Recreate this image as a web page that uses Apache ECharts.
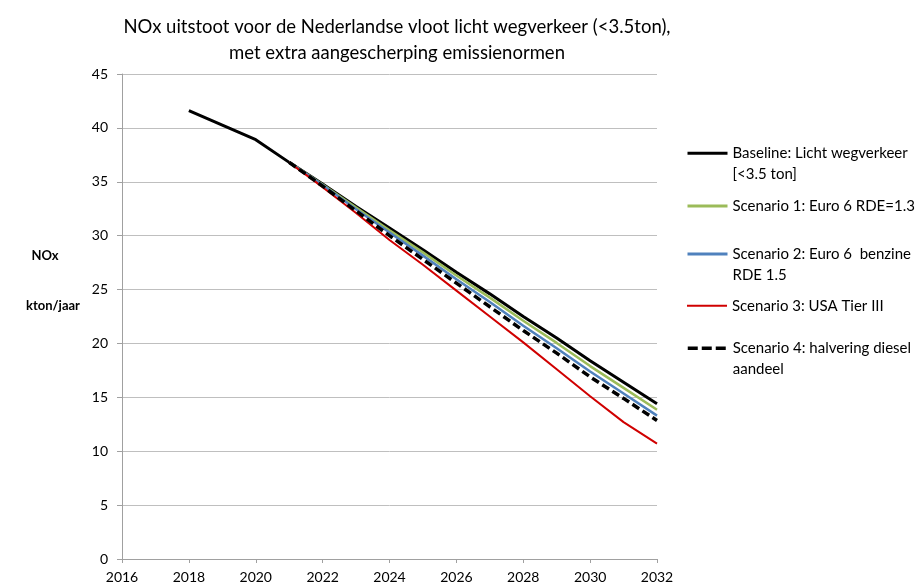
<!DOCTYPE html>
<html>
<head>
<meta charset="utf-8">
<script src="https://cdn.jsdelivr.net/npm/echarts@6/dist/echarts.min.js"></script>
<style>
html,body{margin:0;padding:0;background:#fff;}
#chart{width:919px;height:584px;}
</style>
</head>
<body>
<div id="chart"></div>
<script>
var years = [2018, 2019, 2020, 2021, 2022, 2023, 2024, 2025, 2026, 2027, 2028, 2029, 2030, 2031, 2032];
var baseline  = [41.6, 40.25, 38.9, 36.8, 34.8, 32.7, 30.7, 28.7, 26.6, 24.6, 22.5, 20.5, 18.4, 16.4, 14.4];
var scenario1 = [null, null, null, 36.8, 34.75, 32.6, 30.5, 28.45, 26.3, 24.25, 22.1, 20.05, 17.9, 15.88, 13.85];
var scenario2 = [null, null, null, 36.8, 34.7, 32.45, 30.3, 28.15, 25.95, 23.85, 21.65, 19.55, 17.4, 15.35, 13.3];
var scenario3 = [null, null, null, 36.8, 34.5, 32.1, 29.6, 27.3, 24.9, 22.5, 20.1, 17.6, 15.1, 12.7, 10.7];
var scenario4 = [null, null, null, 36.8, 34.6, 32.3, 30.0, 27.8, 25.6, 23.4, 21.2, 19.1, 16.9, 14.9, 12.85];
var seriesNames = [
  'Baseline: Licht wegverkeer\n[<3.5 ton]',
  'Scenario 1: Euro 6 RDE=1.3',
  'Scenario 2: Euro 6  benzine\nRDE 1.5',
  'Scenario 3: USA Tier III',
  'Scenario 4: halvering diesel\naandeel'
];
var titleText = 'NOx uitstoot voor de Nederlandse vloot licht wegverkeer (<3.5ton),\nmet extra aangescherping emissienormen';
var yNameTop = 'NOx';
var yNameBottom = 'kton/jaar';

function pairs(vals) {
  var out = [];
  for (var i = 0; i < years.length; i++) {
    if (vals[i] !== null) out.push([years[i], vals[i]]);
  }
  return out;
}

var FONT = 'Lato, "Open Sans", sans-serif';
var colors = ['#000000', '#9BBB59', '#4F81BD', '#D00000', '#000000'];
var widths = [3, 2.5, 2.5, 2, 3.5];
var legendWidths = [3, 3, 3, 2, 3.5];
var types = ['solid', 'solid', 'solid', 'solid', [8, 4]];
var legendTypes = ['solid', 'solid', 'solid', 'solid', [10, 4]];
var allData = [baseline, scenario1, scenario2, scenario3, scenario4];
var legendTops = [121.8, 195.5, 222.5, 295.2, 316.8];

var series = allData.map(function (d, i) {
  return {
    name: seriesNames[i],
    type: 'line',
    data: pairs(d),
    symbol: 'none',
    smooth: false,
    animation: false,
    z: 2 + i,
    lineStyle: { color: colors[i], width: widths[i], type: types[i], cap: 'butt' },
    itemStyle: { color: colors[i] }
  };
});

var legends = seriesNames.map(function (n, i) {
  return {
    data: [n],
    orient: 'vertical',
    left: 686,
    top: legendTops[i],
    padding: 0,
    itemWidth: 40,
    itemHeight: 14,
    selectedMode: false,
    itemStyle: { opacity: 0 },
    lineStyle: { width: legendWidths[i], type: legendTypes[i], color: colors[i] },
    formatter: function (name) { return name.indexOf('\n') >= 0 ? '\n' + name : name; },
    textStyle: { fontFamily: FONT, fontSize: 15, color: '#000', lineHeight: 21 }
  };
});

var chart = echarts.init(document.getElementById('chart'), null, { renderer: 'canvas' });
chart.setOption({
  animation: false,
  backgroundColor: '#fff',
  grid: { left: 122, right: 262, top: 74, bottom: 25, containLabel: false, outerBoundsMode: 'none' },
  xAxis: {
    type: 'value', min: 2016, max: 2032, interval: 2,
    axisLine: { show: true, lineStyle: { color: '#A0A0A0', width: 1 } },
    axisTick: { show: true, inside: false, length: 4, lineStyle: { color: '#A0A0A0' } },
    splitLine: { show: false },
    axisLabel: { margin: 11, fontFamily: FONT, fontSize: 14, color: '#000', formatter: function (v) { return String(v); } }
  },
  yAxis: {
    type: 'value', min: 0, max: 45, interval: 5,
    axisLine: { show: true, lineStyle: { color: '#A0A0A0', width: 1 } },
    axisTick: { show: true, inside: false, length: 5, lineStyle: { color: '#A0A0A0' } },
    splitLine: { show: true, lineStyle: { color: '#BFBFBF', width: 1 } },
    axisLabel: { margin: 14, fontFamily: FONT, fontSize: 14, color: '#000' }
  },
  legend: legends,
  graphic: [
    { type: 'text', silent: true, x: 397, y: 40,
      style: { text: titleText, font: '18.5px ' + FONT, fill: '#000', lineHeight: 26,
        textAlign: 'center', textVerticalAlign: 'middle', align: 'center', verticalAlign: 'middle' } },
    { type: 'text', silent: true, x: 45, y: 256,
      style: { text: yNameTop, font: 'bold 13px ' + FONT, fill: '#000', textAlign: 'center', textVerticalAlign: 'middle', align: 'center', verticalAlign: 'middle' } },
    { type: 'text', silent: true, x: 53, y: 306,
      style: { text: yNameBottom, font: 'bold 13px ' + FONT, fill: '#000', textAlign: 'center', textVerticalAlign: 'middle', align: 'center', verticalAlign: 'middle' } }
  ],
  series: series
});
</script>
</body>
</html>
